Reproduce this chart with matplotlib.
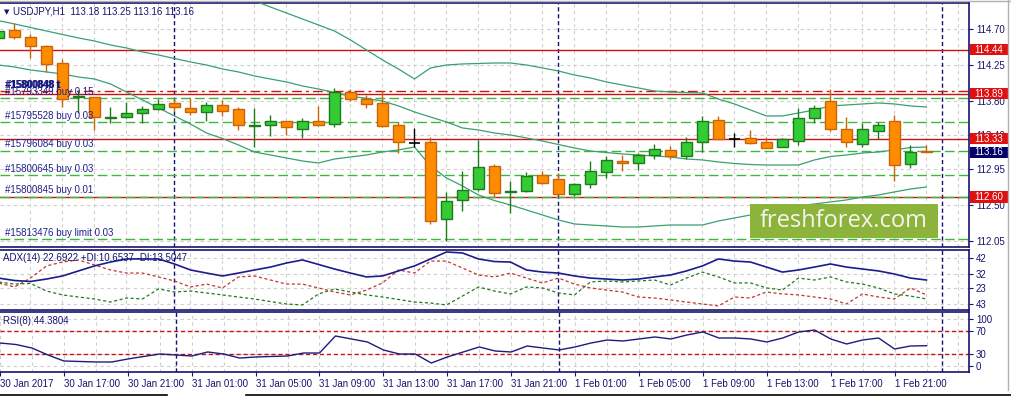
import numpy as np
import matplotlib
matplotlib.use("Agg")
import matplotlib.pyplot as plt
import matplotlib.transforms as mtransforms
from matplotlib.patches import Rectangle
from matplotlib.lines import Line2D

# USDJPY H1, bars from 30 Jan 13:00 to 1 Feb 23:00
opens = [114.59, 114.69, 114.60, 114.49, 114.28, 113.85, 113.85, 113.59, 113.60, 113.65,
         113.70, 113.78, 113.71, 113.66, 113.75, 113.70, 113.49, 113.50, 113.55, 113.45,
         113.55, 113.51, 113.91, 113.83, 113.78, 113.50, 113.275, 113.29, 112.33, 112.56,
         112.70, 112.99, 112.66, 112.68, 112.88, 112.83, 112.64, 112.76, 112.91, 113.05,
         113.03, 113.13, 113.19, 113.11, 113.29, 113.56, 113.33, 113.34, 113.29, 113.225,
         113.30, 113.59, 113.80, 113.45, 113.26, 113.425, 113.55, 113.01, 113.18]
highs = [114.70, 114.78, 114.64, 114.50, 114.33, 113.94, 113.85, 113.73, 113.79, 113.74,
         113.83, 113.83, 113.84, 113.79, 113.81, 113.73, 113.71, 113.63, 113.55, 113.59,
         113.74, 113.96, 113.95, 113.88, 113.93, 113.54, 113.46, 113.35, 112.66, 112.93,
         113.31, 113.01, 112.80, 112.91, 112.93, 112.90, 112.78, 113.05, 113.11, 113.13,
         113.15, 113.26, 113.24, 113.35, 113.61, 113.61, 113.40, 113.44, 113.35, 113.34,
         113.71, 113.75, 113.95, 113.60, 113.525, 113.54, 113.625, 113.25, 113.25]
lows = [114.56, 114.58, 114.34, 114.16, 113.73, 113.65, 113.44, 113.53, 113.59, 113.53,
        113.69, 113.68, 113.63, 113.55, 113.61, 113.44, 113.23, 113.36, 113.38, 113.34,
        113.49, 113.47, 113.80, 113.71, 113.48, 113.15, 113.23, 112.26, 112.05, 112.43,
        112.68, 112.60, 112.40, 112.66, 112.76, 112.63, 112.61, 112.71, 112.84, 112.93,
        112.94, 113.08, 113.08, 113.08, 113.16, 113.33, 113.225, 113.26, 113.21, 113.225,
        113.25, 113.525, 113.425, 113.225, 113.225, 113.325, 112.80, 112.96, 113.16]
closes = [114.67, 114.60, 114.49, 114.26, 113.83, 113.86, 113.60, 113.60, 113.65, 113.70,
          113.76, 113.73, 113.66, 113.75, 113.68, 113.50, 113.50, 113.55, 113.47, 113.55,
          113.50, 113.91, 113.83, 113.76, 113.49, 113.29, 113.275, 112.30, 112.55, 112.69,
          112.98, 112.65, 112.67, 112.86, 112.78, 112.64, 112.76, 112.93, 113.06, 113.03,
          113.13, 113.20, 113.11, 113.29, 113.55, 113.33, 113.33, 113.275, 113.21, 113.325,
          113.59, 113.71, 113.45, 113.29, 113.45, 113.50, 113.00, 113.16, 113.16]

# Bollinger bands
bb_up = [115.563, 115.525, 115.488, 115.450, 115.413, 115.375, 115.338, 115.300, 115.263, 115.225,
         115.188, 115.163, 115.138, 115.113, 115.088, 115.063, 115.050, 114.975, 114.900, 114.825,
         114.750, 114.675, 114.563, 114.438, 114.313, 114.200, 114.075, 114.213, 114.250, 114.263,
         114.269, 114.275, 114.275, 114.250, 114.213, 114.175, 114.125, 114.088, 114.038, 114.000,
         113.963, 113.925, 113.913, 113.906, 113.900, 113.825, 113.763, 113.688, 113.613, 113.613,
         113.650, 113.688, 113.738, 113.750, 113.763, 113.775, 113.763, 113.738, 113.725]
bb_mid = [114.804, 114.763, 114.719, 114.675, 114.631, 114.588, 114.550, 114.500, 114.463, 114.413,
          114.375, 114.331, 114.288, 114.250, 114.200, 114.163, 114.113, 114.075, 114.038, 113.988,
          113.950, 113.906, 113.863, 113.831, 113.800, 113.738, 113.663, 113.600, 113.538, 113.463,
          113.438, 113.400, 113.375, 113.338, 113.300, 113.256, 113.213, 113.175, 113.156, 113.138,
          113.125, 113.113, 113.100, 113.075, 113.063, 113.038, 113.019, 113.006, 113.000, 113.000,
          113.000, 113.063, 113.106, 113.125, 113.150, 113.163, 113.188, 113.219, 113.225]
bb_low = [114.250, 114.225, 114.188, 114.163, 114.138, 114.100, 114.075, 114.013, 113.913, 113.813,
          113.713, 113.613, 113.513, 113.400, 113.331, 113.250, 113.163, 113.125, 113.088, 113.050,
          113.025, 113.075, 113.100, 113.125, 113.163, 113.188, 113.225, 112.988, 112.838, 112.738,
          112.625, 112.556, 112.500, 112.438, 112.375, 112.313, 112.263, 112.250, 112.238, 112.225,
          112.225, 112.238, 112.250, 112.250, 112.250, 112.300, 112.338, 112.375, 112.413, 112.463,
          112.488, 112.513, 112.538, 112.563, 112.600, 112.625, 112.663, 112.700, 112.725]

# ADX(14)
adx = [29.3, 27.8, 27.2, 28.7, 30.6, 33.7, 36.8, 39.2, 41.1, 41.1,
       41.1, 38.0, 34.3, 32.4, 30.6, 32.4, 34.3, 36.1, 38.6, 40.5,
       37.7, 34.9, 32.4, 30.0, 30.6, 33.7, 36.8, 41.1, 45.4, 44.8,
       41.1, 39.5, 39.2, 34.3, 33.0, 32.4, 30.6, 29.3, 28.7, 28.1,
       28.7, 30.0, 31.2, 33.7, 36.8, 41.1, 39.8, 39.2, 36.1, 33.0,
       34.3, 36.1, 38.0, 36.1, 34.9, 33.7, 31.8, 29.3, 28.1]
plus_di = [26.9, 25.6, 26.0, 21.3, 18.9, 17.6, 16.4, 14.5, 17.0, 16.4,
           22.6, 20.7, 21.3, 20.1, 18.9, 17.6, 16.4, 14.8, 13.3, 12.7,
           19.5, 22.6, 20.7, 18.9, 17.6, 16.1, 14.5, 13.9, 12.7, 18.2,
           23.8, 21.3, 19.5, 23.8, 23.2, 20.1, 18.9, 26.9, 27.5, 26.9,
           27.5, 28.1, 25.0, 29.3, 33.0, 30.0, 26.3, 26.3, 23.2, 21.9,
           29.3, 28.1, 30.0, 26.9, 25.6, 23.2, 19.5, 18.2, 16.4]
minus_di = [26.3, 23.8, 29.3, 36.8, 39.2, 40.5, 37.4, 34.3, 32.4, 32.4,
            30.0, 27.5, 23.8, 25.6, 23.2, 30.0, 30.6, 28.1, 25.6, 25.6,
            23.2, 20.7, 18.9, 21.9, 26.3, 34.3, 32.4, 39.8, 39.8, 35.5,
            31.2, 30.0, 32.4, 29.3, 26.3, 29.3, 25.6, 23.2, 21.9, 20.7,
            17.6, 17.0, 15.8, 14.5, 13.3, 12.1, 17.6, 17.0, 20.7, 19.5,
            18.9, 17.6, 16.4, 13.3, 19.5, 17.6, 16.4, 23.2, 18.9]

# RSI(8)
rsi = [49.1, 46.5, 40.4, 28.3, 17.8, 17.0, 16.1, 16.1, 21.3, 25.7,
       30.0, 28.3, 26.5, 33.5, 30.0, 23.0, 24.8, 25.7, 26.5, 31.7,
       31.7, 61.3, 56.1, 50.9, 37.0, 30.0, 30.0, 14.3, 24.8, 33.5,
       42.2, 35.2, 33.5, 43.9, 40.4, 37.0, 42.2, 49.1, 54.3, 52.6,
       56.1, 59.6, 56.1, 63.0, 68.3, 57.8, 57.8, 56.1, 50.9, 57.8,
       68.3, 71.7, 56.1, 47.4, 54.3, 57.8, 38.7, 43.9, 44.4]

bar_idx = np.arange(-1, len(opens) - 1)  # bar 0 = 30 Jan 14:00

time_ticks = np.arange(-1, 56, 4)
time_labels = ["30 Jan 2017", "30 Jan 17:00", "30 Jan 21:00", "31 Jan 01:00", "31 Jan 05:00",
               "31 Jan 09:00", "31 Jan 13:00", "31 Jan 17:00", "31 Jan 21:00", "1 Feb 01:00",
               "1 Feb 05:00", "1 Feb 09:00", "1 Feb 13:00", "1 Feb 17:00", "1 Feb 21:00"]
day_breaks = [10, 34, 58]

price_ticks = [114.70, 114.25, 113.80, 113.38, 112.95, 112.50, 112.05]
price_tick_labels = ["114.70", "114.25", "113.80", "113.40", "112.95", "112.50", "112.05"]

red_levels = [114.44, 113.89, 113.33, 112.60]
tp_level = 113.925
order_levels = [113.834, 113.534, 113.179, 112.875, 112.604, 112.07]
order_labels = ["#15793349 buy 0.15", "#15795528 buy 0.03", "#15796084 buy 0.03",
                "#15800645 buy 0.03", "#15800845 buy 0.01", "#15813476 buy limit 0.03"]
last_price = 113.16

# ---- layout in pixels
W, H = 1011, 397
NAVY = "#14146e"
BULL, BULL_EDGE = "#33cc33", "#1f7a1f"
BEAR, BEAR_EDGE = "#ff8c00", "#c8640a"
RED = "#c81414"
GRIDC = "#cfcfcf"


def rect(x0, y0, x1, y1):
    return [x0 / W, 1 - y1 / H, (x1 - x0) / W, (y1 - y0) / H]


plt.rcParams['font.family'] = ['Liberation Sans', 'DejaVu Sans']
fig = plt.figure(figsize=(W / 100, H / 100), dpi=100)
fig.patch.set_facecolor("white")

ax = fig.add_axes(rect(0, 3, 969, 247))
ax_adx = fig.add_axes(rect(0, 250, 969, 310))
ax_rsi = fig.add_axes(rect(0, 312, 969, 372))

xlim = (-0.906, 59.66)
for a in (ax, ax_adx, ax_rsi):
    a.set_xlim(*xlim)
    a.set_facecolor("white")
    for s in ("top", "right", "bottom"):
        a.spines[s].set_color(NAVY)
        a.spines[s].set_linewidth(1.2)
    a.spines["left"].set_visible(False)
    a.yaxis.tick_right()
    a.tick_params(axis="y", direction="out", length=3, width=0.8, color=NAVY,
                  labelcolor=NAVY, labelsize=7, pad=2)
    for k in range(-1, 60, 2):
        a.axvline(k, color=GRIDC, lw=0.8, ls=(0, (3, 3)), zorder=0)
    for k in day_breaks:
        a.axvline(k, color=NAVY, lw=1, ls=(0, (3, 2)), zorder=1)
    a.grid(axis="y", color=GRIDC, lw=0.8, ls=(0, (3, 3)), zorder=0)
    a.set_axisbelow(True)

# ---- main price panel
ax.set_ylim(111.975, 115.025)
ax.set_yticks(price_ticks)
ax.set_yticklabels(price_tick_labels)
ax.set_xticks([])

for lv in red_levels:
    ax.axhline(lv, color=RED, lw=1, zorder=2)
ax.axhline(tp_level, color=RED, lw=1, ls=(0, (7, 3, 2, 3)), zorder=2)
for lv in order_levels:
    ax.axhline(lv, color="#3cb93c", lw=1, ls=(0, (7, 3)), zorder=2)

ax.plot(bar_idx, bb_up, color="#3aa070", lw=0.9, zorder=3)
ax.plot(bar_idx, bb_mid, color="#3aa070", lw=0.9, zorder=3)
ax.plot(bar_idx, bb_low, color="#3aa070", lw=0.9, zorder=3)

o = np.array(opens)
c = np.array(closes)
hi = np.array(highs)
lo = np.array(lows)
up = c > o
dn = c < o
dj = c == o
ax.vlines(bar_idx[up], lo[up], hi[up], color=BULL_EDGE, lw=1, zorder=4)
ax.vlines(bar_idx[dn], lo[dn], hi[dn], color=BEAR_EDGE, lw=1, zorder=4)
ax.vlines(bar_idx[dj], lo[dj], hi[dj], color="black", lw=1, zorder=4)
bw = 0.66
ax.bar(bar_idx[up], (c - o)[up], bottom=o[up], width=bw, color=BULL,
       edgecolor=BULL_EDGE, lw=1, zorder=5)
ax.bar(bar_idx[dn], (o - c)[dn], bottom=c[dn], width=bw, color=BEAR,
       edgecolor=BEAR_EDGE, lw=1, zorder=5)
ax.hlines(o[dj], bar_idx[dj] - bw / 2, bar_idx[dj] + bw / 2, color="black", lw=1.2, zorder=5)

lbl_tr = mtransforms.offset_copy(
    mtransforms.blended_transform_factory(ax.transAxes, ax.transData), fig=fig, y=1.5, units="dots")
for lv, txt in zip(order_levels, order_labels):
    ax.text(5 / 969, lv, txt, transform=lbl_tr, fontsize=7, color="#20208c",
            va="bottom", ha="left", zorder=6)
for dx in (0, 0.6):
    ax.text((5 + dx) / 969, tp_level, "#15800848 t", transform=lbl_tr, fontsize=7,
            color="#1a1a80", va="bottom", ha="left", zorder=6, fontweight="bold")

# price boxes on the scale
box_tr = mtransforms.blended_transform_factory(fig.transFigure, ax.transData)
for lv, fc in [(v, "#e01010") for v in red_levels] + [(last_price, "#000066")]:
    ax.add_patch(Rectangle((970 / W, lv - 0.07), 38 / W, 0.14, transform=box_tr,
                           facecolor=fc, edgecolor="none", clip_on=False, zorder=10))
    ax.text(989 / W, lv, f"{lv:.2f}", transform=box_tr, color="white", fontsize=7,
            ha="center", va="center", clip_on=False, zorder=11)

fig.text(4 / W, 1 - 12 / H, "\u25bc", color=NAVY, fontsize=5, va="center", family="DejaVu Sans")
fig.text(13 / W, 1 - 12 / H, "USDJPY,H1  113.18 113.25 113.16 113.16", color=NAVY,
         fontsize=7, va="center")

# ---- ADX panel
ax_adx.set_ylim(9.59, 46.63)
ax_adx.set_yticks([42, 32, 23, 13])
ax_adx.set_yticklabels(["42", "32", "23", "43"])
ax_adx.set_xticks([])
ax_adx.plot(bar_idx, minus_di, color="#c83232", lw=0.9, ls=(0, (2.5, 2)), zorder=3)
ax_adx.plot(bar_idx, plus_di, color="#1e7a1e", lw=0.9, ls=(0, (2.5, 2)), zorder=3)
ax_adx.plot(bar_idx, adx, color="#1c1c8c", lw=1.2, zorder=4)
fig.text(3 / W, 1 - 258 / H, "ADX(14) 22.6922 +DI:10.6537 -DI:13.5047", color=NAVY,
         fontsize=7, va="center")

# ---- RSI panel
ax_rsi.set_ylim(-1.3, 103.0)
ax_rsi.set_yticks([9.1, 30, 70, 90.9])
ax_rsi.set_yticklabels(["0", "30", "70", "100"])
ax_rsi.axhline(70, color=RED, lw=1, ls=(0, (3, 2)), zorder=2)
ax_rsi.axhline(30, color=RED, lw=1, ls=(0, (3, 2)), zorder=2)
ax_rsi.plot(bar_idx, rsi, color="#1c1c80", lw=1, zorder=4)
ax_rsi.set_xticks(time_ticks)
ax_rsi.set_xticklabels(time_labels, ha="left")
ax_rsi.tick_params(axis="x", direction="out", length=3, width=0.8, color=NAVY,
                   labelcolor=NAVY, labelsize=7, pad=2)
fig.text(3 / W, 1 - 321 / H, "RSI(8) 44.3804", color=NAVY, fontsize=7, va="center")

# ---- watermark
fig.add_artist(Rectangle((750 / W, 1 - 238 / H), 188 / W, 34 / H, transform=fig.transFigure,
                         facecolor="#8cb43c", edgecolor="none", zorder=20))
fig.text(844 / W, 1 - 221 / H, "freshforex.com", color="#f4f6ec", fontsize=17,
         family="Open Sans", ha="center", va="center", zorder=21)

# ---- window frame bits
fig.add_artist(Line2D([0, 1], [1 - 0.5 / H] * 2, color="#b0b0b0", lw=1))
fig.add_artist(Line2D([1008 / W] * 2, [1 - 390 / H, 1], color="#b0b0b0", lw=1))
fig.add_artist(Line2D([0, 167 / W], [1 - 395 / H] * 2, color="black", lw=1.2))
fig.add_artist(Line2D([246 / W, 1], [1 - 395 / H] * 2, color="black", lw=1.2))

fig.savefig("out.png", dpi=100)
